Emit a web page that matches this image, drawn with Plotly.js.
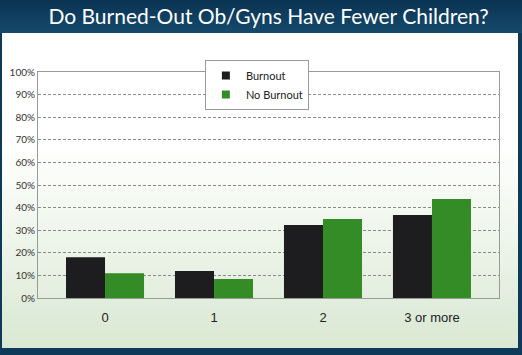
<!DOCTYPE html>
<html>
<head>
<meta charset="utf-8">
<script src="https://cdn.plot.ly/plotly-3.0.1.min.js"></script>
<style>
  html, body { margin: 0; padding: 0; }
  #frame { position: relative; width: 522px; height: 355px; background: #0c3a58; overflow: hidden; }
  #titlebar { position: absolute; left: 0; top: 0; width: 522px; height: 33px;
    background: linear-gradient(to bottom, #0a3352 0%, #154a6c 100%); }
  #panel { position: absolute; left: 2px; top: 33px; width: 516px; height: 315px;
    background: linear-gradient(to bottom, #ffffff 0%, #ffffff 35%, #eef5ea 65%, #d9e8d3 100%); }
  #chart { position: absolute; left: 0; top: 0; width: 522px; height: 355px; }
</style>
</head>
<body>
<div id="frame">
  <div id="titlebar"></div>
  <div id="panel"></div>
  <div id="chart"></div>
</div>
<script>
const categories = ["0", "1", "2", "3 or more"];
const seriesNames = ["Burnout", "No Burnout"];
const burnout = [18, 12, 32.3, 36.7];
const noBurnout = [11, 8.4, 35, 43.8];
const yTickVals = [0, 10, 20, 30, 40, 50, 60, 70, 80, 90, 100];
const yTickText = yTickVals.map(v => v + "%");
const colors = ["#1d1d1f", "#348c27"];

const traces = [
  { type: "bar", name: seriesNames[0], x: [0, 1, 2, 3], y: burnout,
    marker: { color: colors[0] }, hoverinfo: "skip", showlegend: false },
  { type: "bar", name: seriesNames[1], x: [0, 1, 2, 3], y: noBurnout,
    marker: { color: colors[1] }, hoverinfo: "skip", showlegend: false },
  // legend entries (small square swatches)
  { type: "scatter", mode: "markers", name: seriesNames[0], x: [null], y: [null],
    marker: { symbol: "square", size: 8, color: colors[0] }, hoverinfo: "skip" },
  { type: "scatter", mode: "markers", name: seriesNames[1], x: [null], y: [null],
    marker: { symbol: "square", size: 8, color: colors[1] }, hoverinfo: "skip" }
];

const layout = {
  width: 522, height: 355,
  margin: { l: 38, r: 23, t: 72, b: 57 },
  paper_bgcolor: "rgba(0,0,0,0)",
  plot_bgcolor: "rgba(0,0,0,0)",
  font: { family: "Lato, 'Open Sans', sans-serif", color: "#333" },
  title: { text: "Do Burned-Out Ob/Gyns Have Fewer Children?",
    font: { family: "Lato, sans-serif", size: 21, color: "#ffffff" },
    x: 0.5, xanchor: "center", xref: "paper",
    y: 1 - 17 / 355, yanchor: "middle", yref: "container" },
  barmode: "group",
  bargap: 0.284,
  bargroupgap: 0,
  xaxis: {
    range: [-0.615, 3.615],
    tickvals: [0, 1, 2, 3], ticktext: categories,
    tickfont: { family: "'Liberation Sans', Arial, sans-serif", size: 13, color: "#222" },
    showgrid: false, zeroline: false,
    showline: true, linecolor: "#9a9a9a", linewidth: 1, mirror: true,
    ticks: "outside", ticklen: 7, tickcolor: "rgba(0,0,0,0)"
  },
  yaxis: {
    range: [0, 100],
    tickvals: yTickVals, ticktext: yTickText,
    tickfont: { size: 10, color: "#333" },
    showgrid: true, gridcolor: "#8a8a8a", griddash: "3px,2px", gridwidth: 1,
    zeroline: false,
    showline: true, linecolor: "#9a9a9a", linewidth: 1, mirror: true,
    ticks: "", ticklen: 0
  },
  legend: {
    x: 0.362, y: 1.053, xanchor: "left", yanchor: "top",
    bgcolor: "#ffffff", bordercolor: "#9a9a9a", borderwidth: 1,
    font: { size: 11, color: "#222" },
    itemwidth: 30,
    tracegroupgap: 0
  },
  showlegend: true
};

Plotly.newPlot("chart", traces, layout, { displayModeBar: false, staticPlot: true });
</script>
</body>
</html>
